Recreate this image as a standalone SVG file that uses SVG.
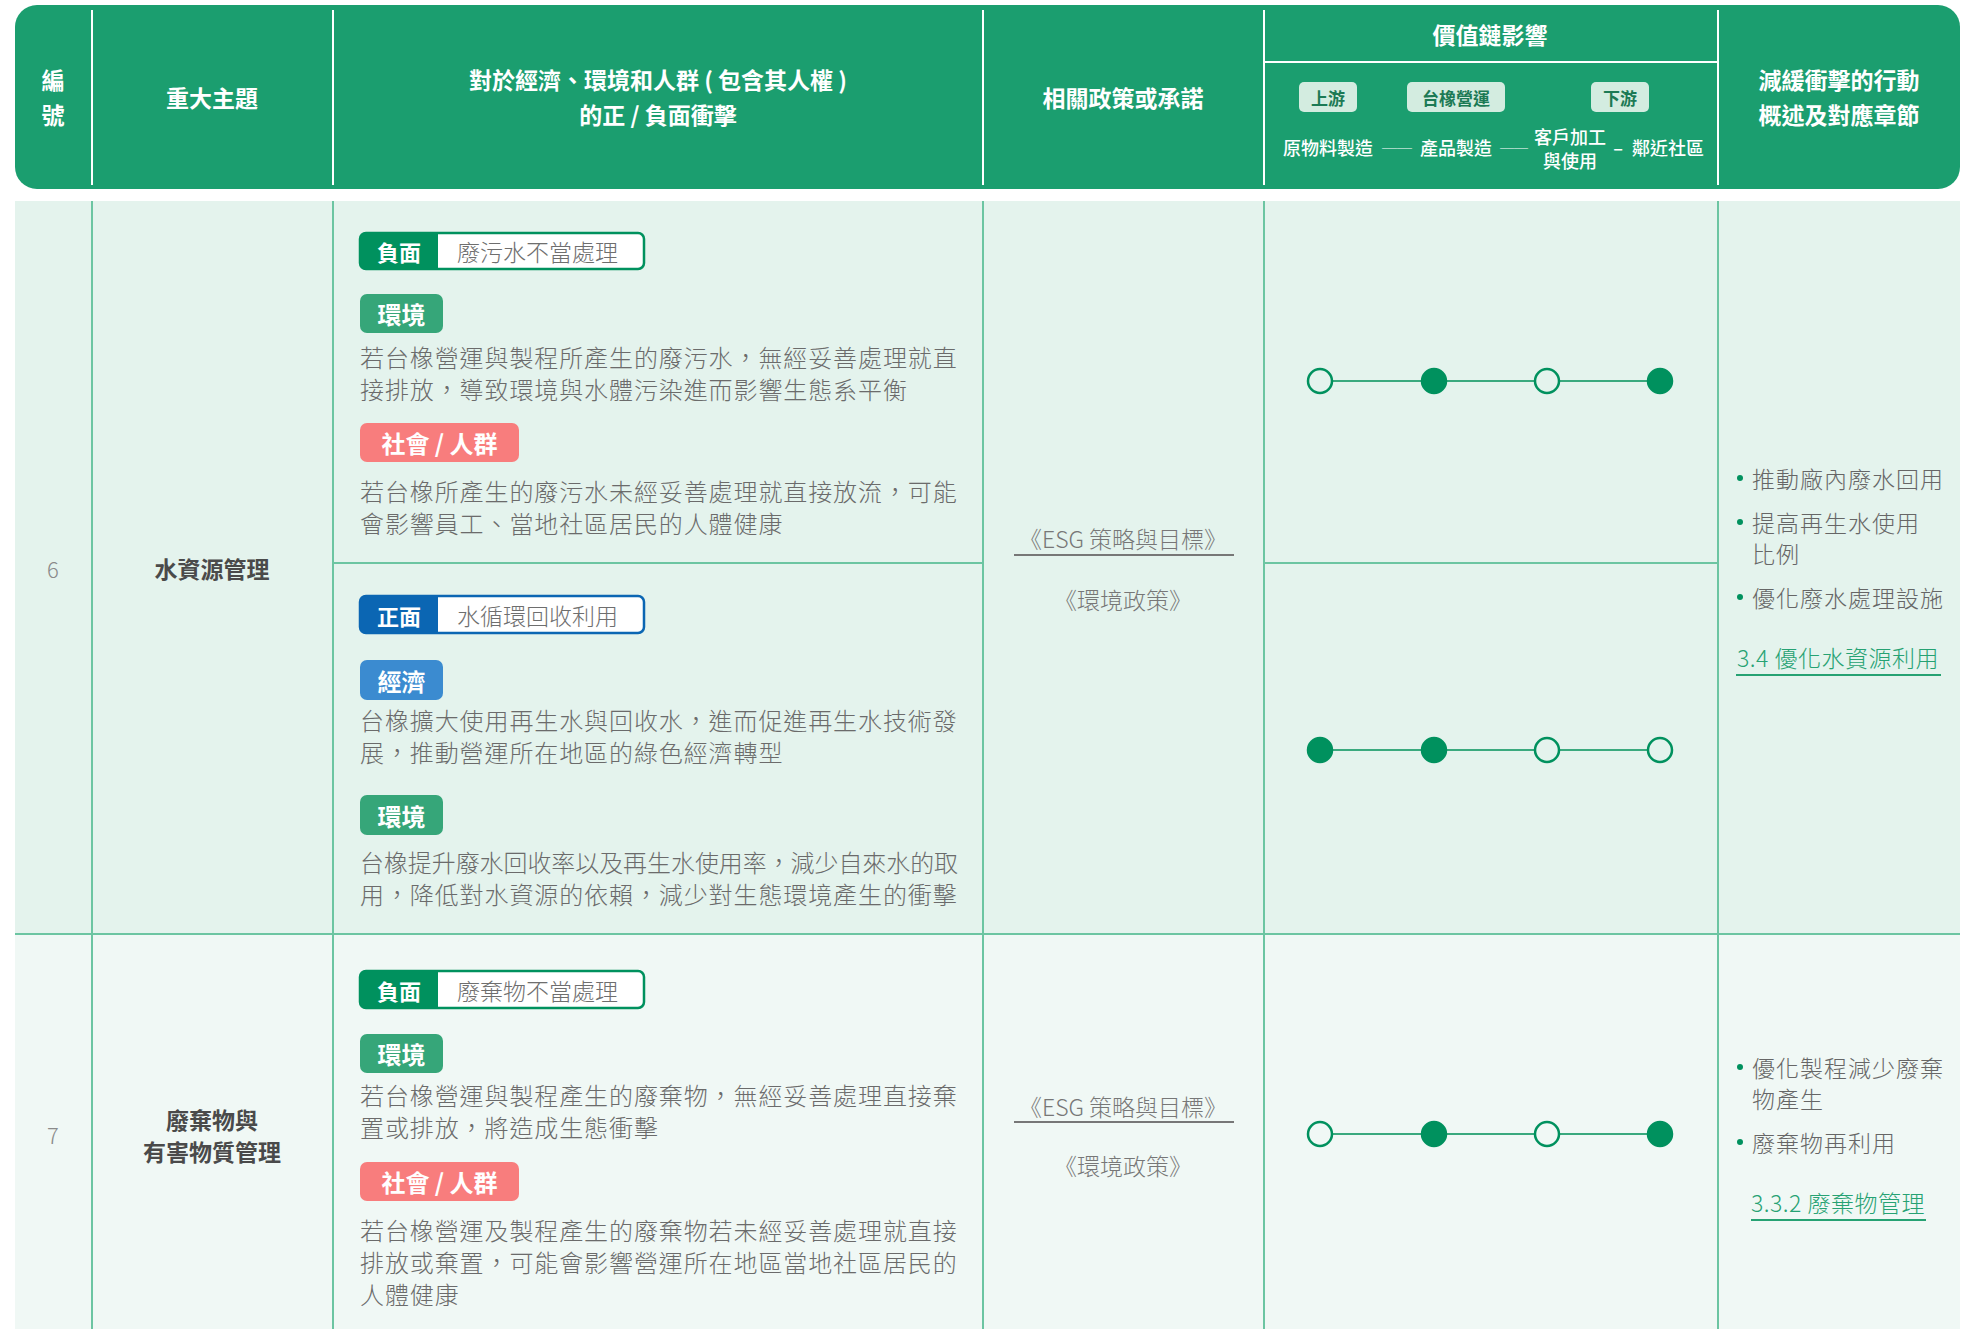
<svg xmlns="http://www.w3.org/2000/svg" width="1972" height="1329" viewBox="0 0 1972 1329">
<style>
text{font-family:"Noto Sans CJK TC","Noto Sans CJK SC",sans-serif}
.h{fill:#fff;font-size:23px;font-weight:700;text-anchor:middle;dominant-baseline:central}
.hs{fill:#fff;font-size:18px;font-weight:500;text-anchor:middle;dominant-baseline:central}
.bd{fill:#1c7a55;font-size:17px;font-weight:700;text-anchor:middle;dominant-baseline:central}
.badge{fill:#d3ece0}
.grid{stroke:#6cc5a2;stroke-width:2;fill:none}
.wl{stroke:#fff;stroke-width:2}
.num{fill:#8a8a8a;font-size:22px;font-weight:300;text-anchor:middle;dominant-baseline:central}
.topic{fill:#4a4a4a;font-size:23px;font-weight:700;text-anchor:middle;dominant-baseline:central}
.body{fill:#6b6b6b;font-size:24px;font-weight:300;letter-spacing:0.9px;dominant-baseline:central}
.tag{fill:#fff;font-size:24px;font-weight:700;text-anchor:middle;dominant-baseline:central}
.boxl{fill:#fff;font-size:22px;font-weight:700;text-anchor:middle;dominant-baseline:central}
.boxr{fill:#6e6e6e;font-size:23px;font-weight:300;dominant-baseline:central}
.pol{fill:#777;font-size:23px;font-weight:300;text-anchor:middle;dominant-baseline:central}
.act{fill:#666;font-size:23px;font-weight:300;letter-spacing:1px;dominant-baseline:central}
.link{fill:#26a273;font-size:23px;font-weight:300;letter-spacing:0.5px;text-anchor:middle;dominant-baseline:central}
.dot{fill:#00915e}
.vc{stroke:#3aa97e;stroke-width:2}
.on{fill:#00915e;stroke:#00915e;stroke-width:2.5}
.off6{fill:#e4f3ed;stroke:#00915e;stroke-width:2.5}
.off7{fill:#f0f8f5;stroke:#00915e;stroke-width:2.5}
</style>

<!-- header -->
<g id="header">
<rect x="15" y="5" width="1945" height="184" rx="22" fill="#1b9e6f"/>
<line class="wl" x1="92" y1="10" x2="92" y2="185"/>
<line class="wl" x1="333" y1="10" x2="333" y2="185"/>
<line class="wl" x1="983" y1="10" x2="983" y2="185"/>
<line class="wl" x1="1264" y1="10" x2="1264" y2="185"/>
<line class="wl" x1="1718" y1="10" x2="1718" y2="185"/>
<line class="wl" x1="1264" y1="62" x2="1718" y2="62"/>
<text class="h" x="53" y="79">編<tspan x="53" y="114">號</tspan></text>
<text class="h" x="212" y="97">重大主題</text>
<text class="h" x="658" y="79">對於經濟、環境和人群 ( 包含其人權 )<tspan x="658" y="114">的正 / 負面衝擊</tspan></text>
<text class="h" x="1123" y="97">相關政策或承諾</text>
<text class="h" x="1490" y="34">價值鏈影響</text>
<rect class="badge" x="1299" y="82" width="58" height="30" rx="5"/>
<text class="bd" x="1328" y="97">上游</text>
<rect class="badge" x="1407" y="82" width="98" height="30" rx="5"/>
<text class="bd" x="1456" y="97">台橡營運</text>
<rect class="badge" x="1591" y="82" width="58" height="30" rx="5"/>
<text class="bd" x="1620" y="97">下游</text>
<text class="hs" x="1328" y="147">原物料製造</text>
<text class="hs" x="1397" y="147" style="font-size:15px;font-weight:700">──</text>
<text class="hs" x="1456" y="147">產品製造</text>
<text class="hs" x="1514" y="147" style="font-size:14px;font-weight:700">──</text>
<text class="hs" x="1570" y="136">客戶加工<tspan x="1570" y="160">與使用</tspan></text>
<text class="hs" x="1618" y="147">–</text>
<text class="hs" x="1668" y="147">鄰近社區</text>
<text class="h" x="1839" y="79">減緩衝擊的行動<tspan x="1839" y="114">概述及對應章節</tspan></text>
</g>

<!-- backgrounds & grid -->
<g id="connectors">
<rect x="15" y="201" width="1945" height="733" fill="#e4f3ed"/>
<rect x="15" y="934" width="1945" height="395" fill="#f0f8f5"/>
<line class="grid" x1="92" y1="201" x2="92" y2="1329"/>
<line class="grid" x1="333" y1="201" x2="333" y2="1329"/>
<line class="grid" x1="983" y1="201" x2="983" y2="1329"/>
<line class="grid" x1="1264" y1="201" x2="1264" y2="1329"/>
<line class="grid" x1="1718" y1="201" x2="1718" y2="1329"/>
<line class="grid" x1="15" y1="934" x2="1960" y2="934"/>
<line class="grid" x1="333" y1="563" x2="983" y2="563"/>
<line class="grid" x1="1264" y1="563" x2="1718" y2="563"/>
</g>

<!-- row 6 -->
<g id="row6">
<text class="num" x="53" y="568">6</text>
<text class="topic" x="212" y="568">水資源管理</text>

<g id="r6-neg">
<rect x="360" y="233" width="284" height="36" rx="6" fill="#fff" stroke="#00915e" stroke-width="2.5"/>
<path d="M366,233 H438 V269 H366 A6,6 0 0 1 360,263 V239 A6,6 0 0 1 366,233 Z" fill="#00915e"/>
<text class="boxl" x="399" y="251">負面</text>
<text class="boxr" x="457" y="251">廢污水不當處理</text>
<rect x="360" y="294" width="83" height="39" rx="7" fill="#36a679"/>
<text class="tag" x="401.5" y="313.5">環境</text>
<text class="body" x="360" y="356">若台橡營運與製程所產生的廢污水，無經妥善處理就直<tspan x="360" y="388">接排放，導致環境與水體污染進而影響生態系平衡</tspan></text>
<rect x="360" y="423" width="159" height="39" rx="7" fill="#f87d7d"/>
<text class="tag" x="439.5" y="442.5">社會 / 人群</text>
<text class="body" x="360" y="490">若台橡所產生的廢污水未經妥善處理就直接放流，可能<tspan x="360" y="522">會影響員工、當地社區居民的人體健康</tspan></text>
</g>

<g id="r6-pos">
<rect x="360" y="596" width="284" height="37" rx="6" fill="#fff" stroke="#0b66b3" stroke-width="2.5"/>
<path d="M366,596 H438 V633 H366 A6,6 0 0 1 360,627 V602 A6,6 0 0 1 366,596 Z" fill="#0b66b3"/>
<text class="boxl" x="399" y="614.5">正面</text>
<text class="boxr" x="457" y="614.5">水循環回收利用</text>
<rect x="360" y="660" width="83" height="40" rx="7" fill="#3b8bd0"/>
<text class="tag" x="401.5" y="680">經濟</text>
<text class="body" x="360" y="719">台橡擴大使用再生水與回收水，進而促進再生水技術發<tspan x="360" y="751">展，推動營運所在地區的綠色經濟轉型</tspan></text>
<rect x="360" y="795" width="83" height="40" rx="7" fill="#36a679"/>
<text class="tag" x="401.5" y="815">環境</text>
<text class="body" x="360" y="861" textLength="598" lengthAdjust="spacingAndGlyphs" style="letter-spacing:0">台橡提升廢水回收率以及再生水使用率，減少自來水的取</text>
<text class="body" x="360" y="893">用，降低對水資源的依賴，減少對生態環境產生的衝擊</text>
</g>

<g id="r6-policy">
<text class="pol" x="1123" y="538">《ESG 策略與目標》</text>
<line x1="1014" y1="555" x2="1234" y2="555" stroke="#777" stroke-width="2"/>
<text class="pol" x="1123" y="599">《環境政策》</text>
</g>

<g id="r6-chain-neg">
<line class="vc" x1="1320" y1="381" x2="1660" y2="381"/>
<circle class="off6" cx="1320" cy="381" r="12"/>
<circle class="on" cx="1434" cy="381" r="12"/>
<circle class="off6" cx="1547" cy="381" r="12"/>
<circle class="on" cx="1660" cy="381" r="12"/>
</g>
<g id="r6-chain-pos">
<line class="vc" x1="1320" y1="750" x2="1660" y2="750"/>
<circle class="on" cx="1320" cy="750" r="12"/>
<circle class="on" cx="1434" cy="750" r="12"/>
<circle class="off6" cx="1547" cy="750" r="12"/>
<circle class="off6" cx="1660" cy="750" r="12"/>
</g>

<g id="r6-action">
<circle class="dot" cx="1740" cy="478" r="3"/>
<text class="act" x="1752" y="478">推動廠內廢水回用</text>
<circle class="dot" cx="1740" cy="522" r="3"/>
<text class="act" x="1752" y="522">提高再生水使用<tspan x="1752" y="553">比例</tspan></text>
<circle class="dot" cx="1740" cy="597" r="3"/>
<text class="act" x="1752" y="597">優化廢水處理設施</text>
<text class="link" x="1838" y="657">3.4 優化水資源利用</text>
<line x1="1736" y1="675" x2="1941" y2="675" stroke="#26a273" stroke-width="2"/>
</g>
</g>

<!-- row 7 -->
<g id="row7">
<text class="num" x="53" y="1134">7</text>
<text class="topic" x="212" y="1119">廢棄物與<tspan x="212" y="1151">有害物質管理</tspan></text>

<g id="r7-neg">
<rect x="360" y="971" width="284" height="37" rx="6" fill="#fff" stroke="#00915e" stroke-width="2.5"/>
<path d="M366,971 H438 V1008 H366 A6,6 0 0 1 360,1002 V977 A6,6 0 0 1 366,971 Z" fill="#00915e"/>
<text class="boxl" x="399" y="989.5">負面</text>
<text class="boxr" x="457" y="989.5">廢棄物不當處理</text>
<rect x="360" y="1034" width="83" height="39" rx="7" fill="#36a679"/>
<text class="tag" x="401.5" y="1053.5">環境</text>
<text class="body" x="360" y="1094">若台橡營運與製程產生的廢棄物，無經妥善處理直接棄<tspan x="360" y="1126">置或排放，將造成生態衝擊</tspan></text>
<rect x="360" y="1162" width="159" height="39" rx="7" fill="#f87d7d"/>
<text class="tag" x="439.5" y="1181.5">社會 / 人群</text>
<text class="body" x="360" y="1229">若台橡營運及製程產生的廢棄物若未經妥善處理就直接<tspan x="360" y="1261">排放或棄置，可能會影響營運所在地區當地社區居民的</tspan><tspan x="360" y="1293">人體健康</tspan></text>
</g>

<g id="r7-policy">
<text class="pol" x="1123" y="1106">《ESG 策略與目標》</text>
<line x1="1014" y1="1122" x2="1234" y2="1122" stroke="#777" stroke-width="2"/>
<text class="pol" x="1123" y="1165">《環境政策》</text>
</g>

<g id="r7-chain">
<line class="vc" x1="1320" y1="1134" x2="1660" y2="1134"/>
<circle class="off7" cx="1320" cy="1134" r="12"/>
<circle class="on" cx="1434" cy="1134" r="12"/>
<circle class="off7" cx="1547" cy="1134" r="12"/>
<circle class="on" cx="1660" cy="1134" r="12"/>
</g>

<g id="r7-action">
<circle class="dot" cx="1740" cy="1067" r="3"/>
<text class="act" x="1752" y="1067">優化製程減少廢棄<tspan x="1752" y="1098">物產生</tspan></text>
<circle class="dot" cx="1740" cy="1142" r="3"/>
<text class="act" x="1752" y="1142">廢棄物再利用</text>
<text class="link" x="1838" y="1202">3.3.2 廢棄物管理</text>
<line x1="1751" y1="1220" x2="1926" y2="1220" stroke="#26a273" stroke-width="2"/>
</g>
</g>
</svg>
